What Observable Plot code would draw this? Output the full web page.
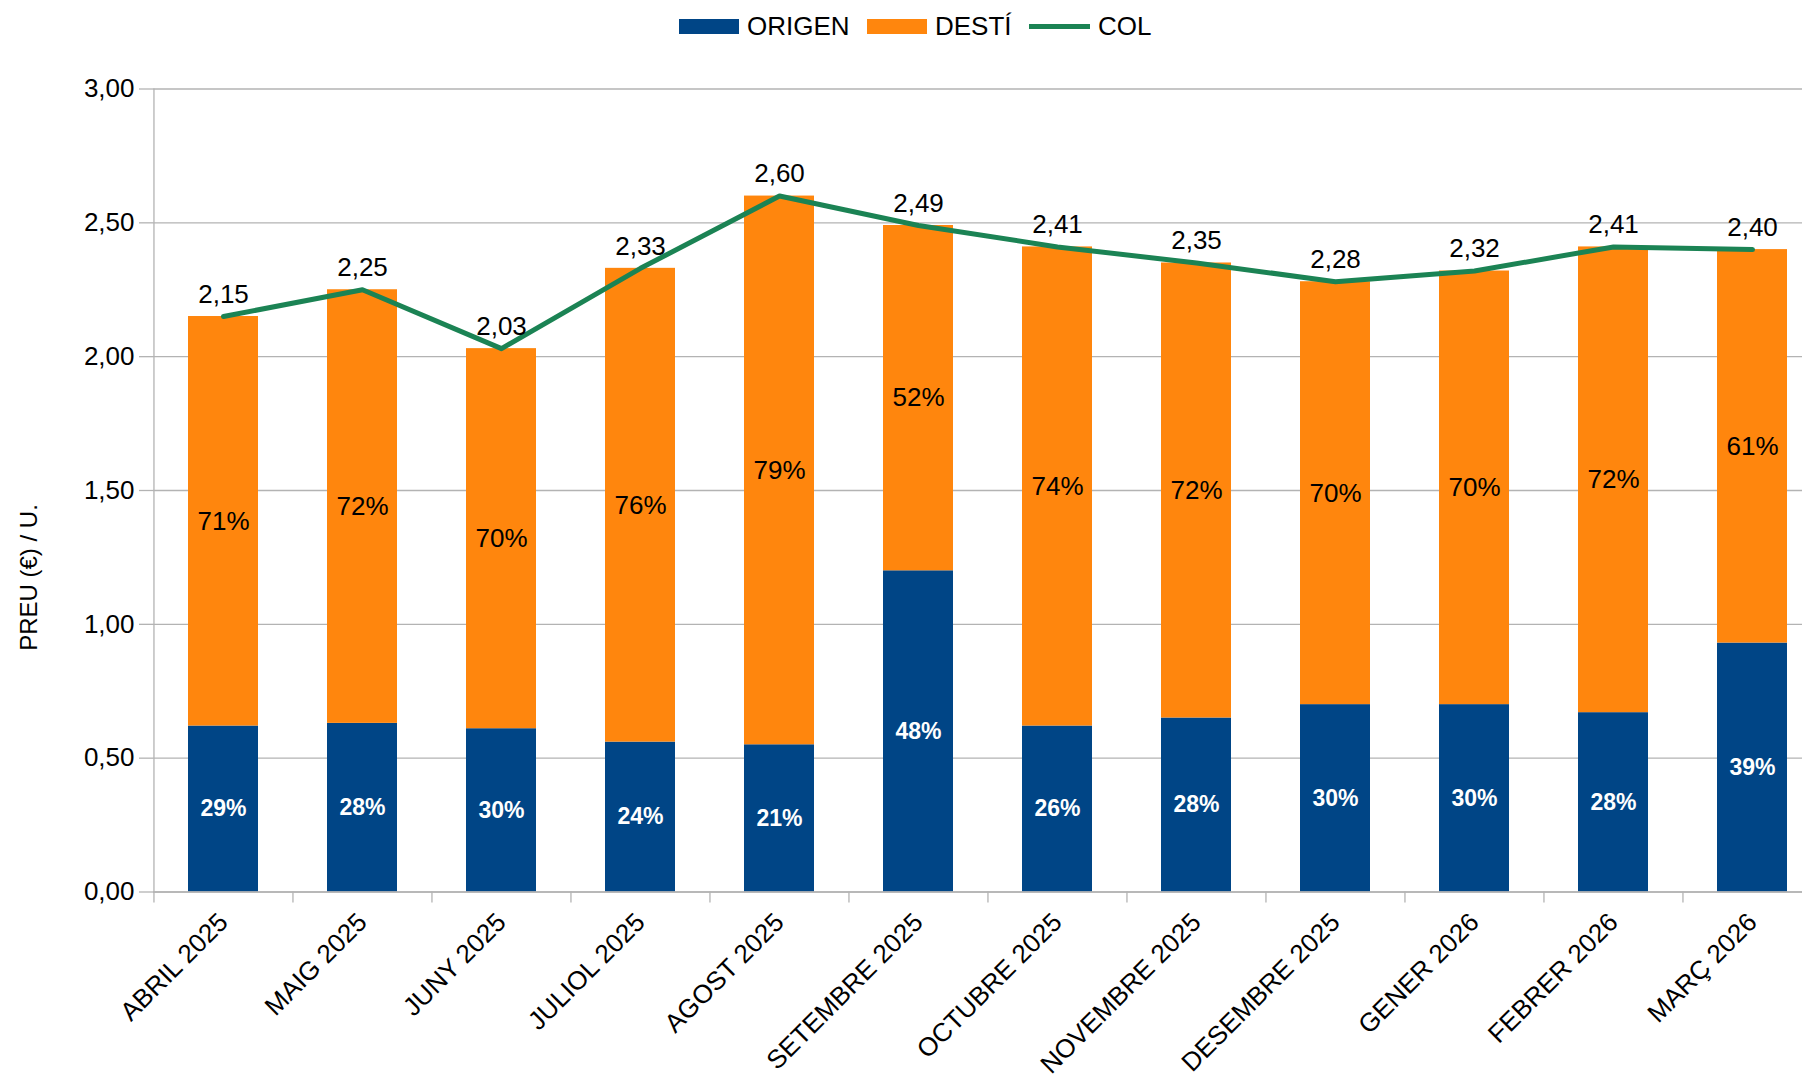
<!DOCTYPE html>
<html><head><meta charset="utf-8">
<script src="https://cdn.jsdelivr.net/npm/d3@7"></script>
<script src="https://cdn.jsdelivr.net/npm/@observablehq/plot@0.6"></script>
<style>
html,body{margin:0;padding:0;background:#fff;overflow:hidden;width:1802px;height:1074px;}
body{font-family:"Liberation Sans",Arial,sans-serif;}
#legend{height:50px;position:relative;width:1802px;}
.item{position:absolute;top:0;height:52px;display:flex;align-items:center;font-size:26px;color:#000;white-space:nowrap;}
.sw{display:inline-block;width:60px;height:15px;margin-right:8px;}
.ln{display:inline-block;width:61px;height:5px;margin-right:8px;}
</style></head><body>
<div id="legend"></div>
<div id="chart"></div>
<script>
// ---- data ----
const months = ["ABRIL 2025","MAIG 2025","JUNY 2025","JULIOL 2025","AGOST 2025","SETEMBRE 2025","OCTUBRE 2025","NOVEMBRE 2025","DESEMBRE 2025","GENER 2026","FEBRER 2026","MARÇ 2026"];
const origen = [0.62,0.63,0.61,0.56,0.55,1.20,0.62,0.65,0.70,0.70,0.67,0.93];
const desti  = [1.53,1.62,1.42,1.77,2.05,1.29,1.79,1.70,1.58,1.62,1.74,1.47];
const col    = [2.15,2.25,2.03,2.33,2.60,2.49,2.41,2.35,2.28,2.32,2.41,2.40];
const pctOrigen = [29,28,30,24,21,48,26,28,30,30,28,39];
const pctDesti  = [71,72,70,76,79,52,74,72,70,70,72,61];
const yTicks = [0,0.5,1,1.5,2,2.5,3];
const seriesNames = ["ORIGEN","DESTÍ","COL"];
const colors = {"ORIGEN":"#004586","DESTÍ":"#ff860d","COL":"#1b8354"};
const yTitle = "PREU (€) / U.";

// ---- legend ----
const legend = document.getElementById("legend");
const legendLeft = [679, 867, 1029];
seriesNames.forEach((s, i) => {
  const it = document.createElement("div");
  it.className = "item";
  it.style.left = legendLeft[i] + "px";
  const sw = document.createElement("span");
  sw.className = s === "COL" ? "ln" : "sw";
  sw.style.background = colors[s];
  it.appendChild(sw);
  it.appendChild(document.createTextNode(s));
  legend.appendChild(it);
});

// ---- tables ----
const long = [];
months.forEach((m, i) => {
  long.push({month: m, serie: "ORIGEN", value: origen[i], pct: pctOrigen[i]});
  long.push({month: m, serie: "DESTÍ", value: desti[i], pct: pctDesti[i]});
});
const line = months.map((m, i) => ({month: m, total: col[i]}));

const W = 1802, H = 1024, mL = 153, xEnd = 1822, mT = 38.5, mB = 182.5;
const step = (xEnd - mL) / months.length;
const fmt = v => v.toFixed(2).replace(".", ",");
const grid = "#b3b3b3";

const chart = Plot.plot({
  width: W, height: H,
  marginLeft: mL, marginRight: 0, marginTop: mT, marginBottom: mB,
  style: {fontFamily: "'Liberation Sans', Arial, sans-serif", fontSize: "26px", background: "white", overflow: "visible"},
  x: {domain: months, range: [mL, xEnd], paddingInner: 0.5, paddingOuter: 0.25, align: 0.5, axis: null},
  y: {domain: [0, 3], axis: null},
  color: {domain: ["ORIGEN","DESTÍ"], range: [colors["ORIGEN"], colors["DESTÍ"]]},
  marks: [
    Plot.gridY(yTicks, {stroke: grid, strokeOpacity: 1, strokeWidth: 1.3}),
    Plot.axisY(yTicks, {tickSize: 14, tickPadding: 5, tickFormat: fmt, label: null, stroke: grid, strokeOpacity: 1, fill: "black", fontSize: 26, strokeWidth: 1.3}),
    Plot.axisX({tickSize: 11, tickFormat: () => "", label: null, dx: -step / 2, stroke: grid, strokeOpacity: 1, strokeWidth: 1.3}),
    Plot.ruleX([months[0]], {y1: 0, y2: 3, dx: -step / 2, stroke: grid, strokeWidth: 1.3}),
    Plot.barY(long, {x: "month", y: "value", fill: "serie"}),
    Plot.ruleY([0], {stroke: grid, strokeWidth: 1.3}),
    Plot.text(long, Plot.stackY({x: "month", y: "value", text: d => d.serie === "ORIGEN" ? d.pct + "%" : null, fill: "white", fontWeight: "bold", fontSize: 23})),
    Plot.text(long, Plot.stackY({x: "month", y: "value", text: d => d.serie === "DESTÍ" ? d.pct + "%" : null, fill: "black", fontSize: 26})),
    Plot.line(line, {x: "month", y: "total", stroke: colors["COL"], strokeWidth: 5}),
    Plot.text(line, {x: "month", y: "total", text: d => fmt(d.total), dy: -22, fill: "black", fontSize: 26}),
    Plot.text(months, {x: d => d, y: () => 0, text: d => d, rotate: -45, textAnchor: "end", lineAnchor: "middle", dy: 26, fontSize: 26, fill: "black"}),
    Plot.text([yTitle], {frameAnchor: "left", text: d => d, rotate: -90, textAnchor: "middle", lineAnchor: "middle", dx: -124, dy: 87, fontSize: 24, fill: "black"})
  ]
});
document.getElementById("chart").appendChild(chart);
</script>
</body></html>
